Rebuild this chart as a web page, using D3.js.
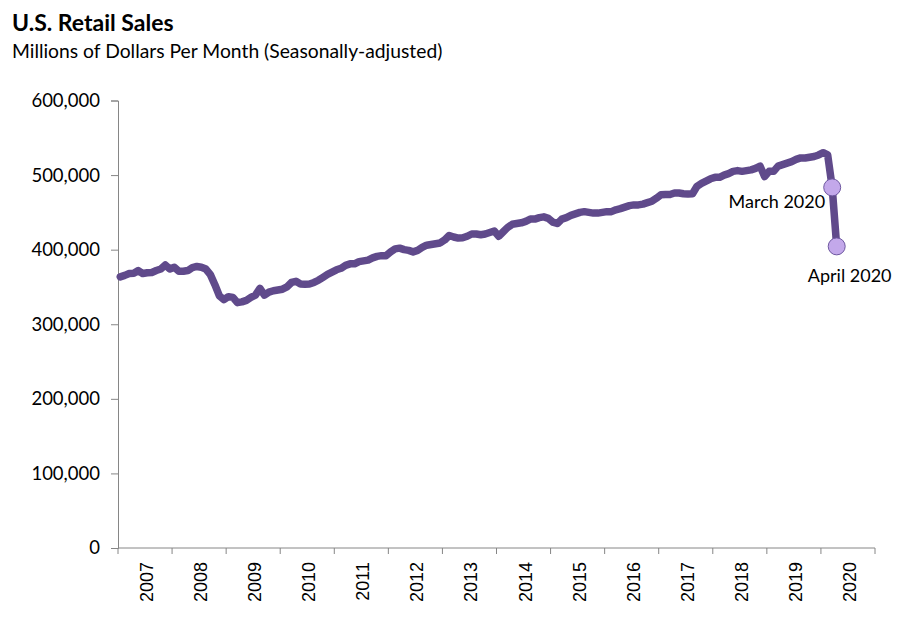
<!DOCTYPE html>
<html>
<head>
<meta charset="utf-8">
<script src="https://cdn.jsdelivr.net/npm/d3@7"></script>
<style>
  body { margin: 0; background: #fff; }
  svg text { font-family: Lato, "Open Sans", sans-serif; fill: #000; }
</style>
</head>
<body>
<div id="chart"></div>
<script>
// category labels on the x axis
var years = ['2007','2008','2009','2010','2011','2012','2013','2014','2015','2016','2017','2018','2019','2020'];

// monthly retail sales, millions of dollars, Jan 2007 - Apr 2020
var sales = [
  363500, 365500, 368000, 368500, 372000, 368000, 369000, 369500, 372000, 374000, 379500, 374000, // 2007
  376500, 371000, 371000, 372000, 376000, 377500, 376500, 374000, 366500, 353000, 338000, 333000, // 2008
  337000, 336000, 329000, 330000, 332000, 336000, 339000, 348000, 339000, 343000, 345000, 346000, // 2009
  347000, 350000, 356000, 357500, 354000, 353500, 354000, 356000, 359000, 363000, 367000, 370000, // 2010
  373000, 375000, 379000, 381000, 381000, 384000, 385000, 386000, 389000, 391000, 392000, 392000, // 2011
  397000, 401000, 402000, 400000, 399000, 397000, 399000, 403000, 406000, 407000, 408000, 409000, // 2012
  413000, 419000, 417000, 415500, 416000, 418000, 421000, 421000, 420000, 421000, 423000, 425000, // 2013
  418000, 424000, 430000, 434000, 435000, 436000, 438000, 441000, 441000, 443000, 444000, 442000, // 2014
  437000, 435000, 441000, 443000, 446000, 448000, 450000, 451000, 450000, 449000, 449000, 450000, // 2015
  451000, 451000, 453500, 455000, 457000, 459000, 460000, 460000, 461000, 463000, 465000, 469000, // 2016
  473500, 474000, 474000, 476000, 476000, 475000, 474500, 475000, 485000, 489000, 492000, 495000, // 2017
  497000, 497000, 500000, 502000, 505000, 506000, 505000, 506000, 507000, 509000, 512000, 498000, // 2018
  505000, 505000, 512000, 514000, 516000, 518000, 521000, 523000, 523000, 524000, 525000, 527000, // 2019
  530000, 527000, 483500, 404400                                                                  // 2020
];

var yTicks = [0, 100000, 200000, 300000, 400000, 500000, 600000];

// highlighted points: index into sales, label
var notes = [
  { i: 158, label: 'March 2020' },
  { i: 159, label: 'April 2020' }
];

(function(){
var W = 901, H = 630;
var mLeft = 118, mRight = 875, mTop = 100.5, mBottom = 548;

var svg = d3.select('#chart').append('svg')
    .attr('width', W)
    .attr('height', H);

// title
svg.append('text')
    .text('U.S. Retail Sales')
    .attr('x', 12)
    .attr('y', 31)
    .attr('font-size', 23)
    .style('font-weight', 'bold');
svg.append('text')
    .text('Millions of Dollars Per Month (Seasonally-adjusted)')
    .attr('x', 12)
    .attr('y', 58)
    .attr('font-size', 19.3);

// one band per month over the whole year range
var months = [];
years.forEach(function(yr){
  for (var m = 1; m <= 12; m++) months.push(yr + '-' + m);
});

var xMonth = d3.scaleBand().domain(months).range([mLeft, mRight]);
var xYear = d3.scaleBand().domain(years).range([mLeft, mRight]);
var y = d3.scaleLinear().domain([0, 600000]).range([mBottom, mTop]);

var fmt = d3.format(',');
var axisColor = '#868686';

// y axis
var yAxis = svg.append('g')
    .attr('transform', 'translate(' + mLeft + ',0)')
    .call(d3.axisLeft(y).tickValues(yTicks).tickFormat(fmt).tickSize(7).tickPadding(11));
yAxis.select('.domain').attr('stroke', axisColor);
yAxis.selectAll('.tick line').attr('stroke', axisColor);
yAxis.selectAll('.tick text')
    .attr('font-size', 18.5)
    .style('font-family', 'Lato, sans-serif')
    .attr('fill', '#000');

// x axis: ticks between categories, labels rotated
var xAxis = svg.append('g')
    .attr('transform', 'translate(0,' + mBottom + ')');
xAxis.append('line')
    .attr('x1', mLeft).attr('x2', mRight)
    .attr('stroke', axisColor);
xAxis.selectAll('.tk')
    .data(years.concat(['end']))
    .enter().append('line')
    .attr('class', 'tk')
    .attr('x1', function(d){ return d === 'end' ? mRight : xYear(d); })
    .attr('x2', function(d){ return d === 'end' ? mRight : xYear(d); })
    .attr('y1', 0).attr('y2', 6)
    .attr('stroke', axisColor);
xAxis.selectAll('.yl')
    .data(years)
    .enter().append('text')
    .attr('class', 'yl')
    .text(function(d){ return d; })
    .attr('text-anchor', 'end')
    .attr('font-size', 18)
    .style('font-family', '"Liberation Sans", Arial, sans-serif')
    .attr('transform', function(d){
      var cx = xYear(d) + xYear.bandwidth() / 2 + 8;
      return 'translate(' + cx + ',14) rotate(-90)';
    });

// the line
var px = function(d, i){ return xMonth(months[i]) + xMonth.bandwidth() / 2; };
var line = d3.line()
    .x(px)
    .y(function(d){ return y(d); });

svg.append('path')
    .datum(sales)
    .attr('d', line)
    .attr('fill', 'none')
    .attr('stroke', '#604A8B')
    .attr('stroke-width', 7.5)
    .attr('stroke-linejoin', 'round')
    .attr('stroke-linecap', 'round');

// markers and labels
svg.selectAll('.mk')
    .data(notes)
    .enter().append('circle')
    .attr('class', 'mk')
    .attr('cx', function(d){ return px(null, d.i); })
    .attr('cy', function(d){ return y(sales[d.i]); })
    .attr('r', 8.5)
    .attr('fill', '#C3A8EA')
    .attr('stroke', '#6E58A0')
    .attr('stroke-width', 1);

svg.append('text')
    .text(notes[0].label)
    .attr('x', px(null, notes[0].i) - 7)
    .attr('y', y(sales[notes[0].i]) + 20.5)
    .attr('text-anchor', 'end')
    .attr('font-size', 18);
svg.append('text')
    .text(notes[1].label)
    .attr('x', px(null, notes[1].i) + 13)
    .attr('y', y(sales[notes[1].i]) + 35.5)
    .attr('text-anchor', 'middle')
    .attr('font-size', 18);
})();
</script>
</body>
</html>
